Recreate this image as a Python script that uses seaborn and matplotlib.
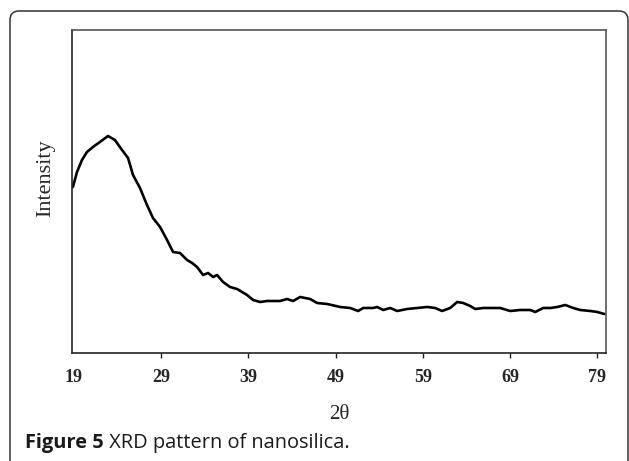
import numpy as np
import pandas as pd
import seaborn as sns
import matplotlib.pyplot as plt
from matplotlib.patches import FancyBboxPatch
from matplotlib.transforms import IdentityTransform

sns.set_theme(style="white")
plt.rcParams["font.family"] = ["Liberation Serif", "DejaVu Serif"]

# values (arbitrary intensity units)
two_theta = [
    18.9, 19.37, 19.94, 20.51, 21.2, 22.0, 22.92, 23.72, 24.53, 25.22,
    25.79, 26.59, 27.39, 28.08, 28.89, 29.69, 30.38, 31.18, 31.98, 32.56,
    33.13, 33.82, 34.39, 34.97, 35.42, 36.11, 36.91, 37.72, 38.86, 39.55,
    40.35, 41.16, 41.5, 42.65, 43.45, 44.14, 44.94, 46.09, 46.89, 48.04,
    49.53, 50.68, 51.59, 52.17, 53.31, 53.77, 54.46, 55.26, 56.06, 57.21,
    58.35, 59.5, 60.42, 61.22, 62.14, 62.94, 63.63, 64.43, 65.01, 65.93,
    66.72, 67.87, 69.02, 70.17, 71.31, 71.89, 72.8, 73.61, 74.41, 75.33,
    76.24, 77.05, 78.19, 79.0, 79.8,
]
intensity = [
    166, 181, 193, 201, 206, 211, 217, 213, 203, 195,
    178, 165, 148, 135, 126, 113, 101, 100, 93, 90,
    86, 78, 80, 76, 78, 71, 66, 64, 58, 53,
    51, 52, 52, 52, 54, 52, 56, 54, 50, 49,
    46, 45, 42, 45, 45, 46, 43, 45, 42, 44,
    45, 46, 45, 42, 45, 51, 50, 47, 44, 45,
    45, 45, 42, 43, 43, 41, 45, 45, 46, 48,
    45, 43, 42, 41, 39,
]
tick_values = [19, 29, 39, 49, 59, 69, 79]

df = pd.DataFrame({"two_theta": two_theta, "intensity": intensity})

fig = plt.figure(figsize=(6.29, 4.61), dpi=100)
ax = fig.add_axes([0.1145, 0.2343, 0.849, 0.7006])

sns.lineplot(data=df, x="two_theta", y="intensity", color="black",
             linewidth=1.9, sort=False, ax=ax)

ax.set_xlim(18.8, 80.0)
ax.set_ylim(0, 323)
ax.set_yticks([])
ax.set_xticks(tick_values)
ax.set_xticklabels([str(v) for v in tick_values], fontweight="bold", fontsize=13)
ax.tick_params(axis="x", direction="out", length=3.5, width=1, color="#222222",
               pad=8, bottom=True)
ax.xaxis.get_major_ticks()[0].tick1line.set_visible(False)

for side in ["left", "bottom"]:
    ax.spines[side].set_color("#222222")
    ax.spines[side].set_linewidth(1.2)
for side in ["top", "right"]:
    ax.spines[side].set_color("#555555")
    ax.spines[side].set_linewidth(1.2)

ax.set_xlabel("2θ", fontsize=15, labelpad=13.5)
ax.set_ylabel("Intensity", fontsize=16)
ax.yaxis.set_label_coords(-0.031, 0.54)

# rounded frame around the figure, as in the journal layout
frame = FancyBboxPatch((10, -20), 618, 470, boxstyle="round,pad=0,rounding_size=9",
                       transform=IdentityTransform(), facecolor="none",
                       edgecolor="#333333", linewidth=1.1)
fig.patches.append(frame)

cap1 = fig.text(25 / 629, 1 - 448 / 461, "Figure 5", fontsize=14.4,
                fontweight="bold", family="Open Sans", color="#1a1a1a",
                va="baseline")
fig.canvas.draw()
bb = cap1.get_window_extent(renderer=fig.canvas.get_renderer())
fig.text(bb.x1 / 629, 1 - 448 / 461, " XRD pattern of nanosilica.",
         fontsize=14.4, family="Open Sans", color="#1a1a1a", va="baseline")

fig.savefig("out.png", dpi=100)
